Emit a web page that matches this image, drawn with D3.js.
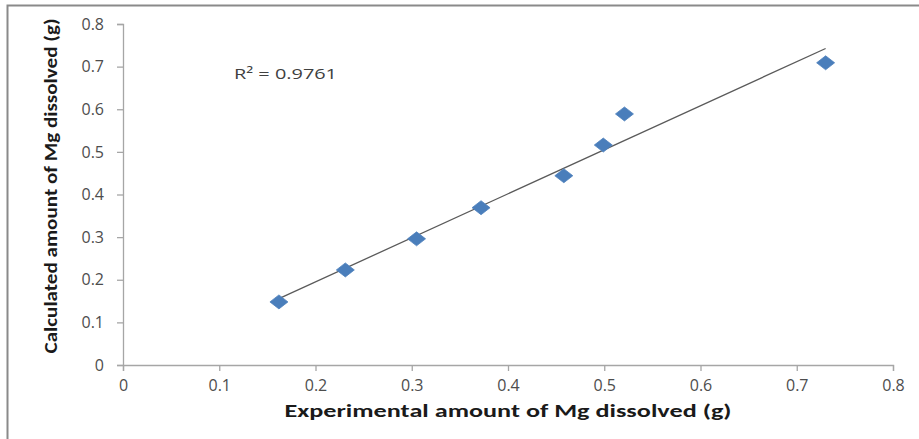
<!DOCTYPE html>
<html><head><meta charset="utf-8">
<script src="https://cdn.jsdelivr.net/npm/d3@7/dist/d3.min.js"></script>
<style>body{margin:0;background:#fff;}svg{display:block;}</style>
</head><body>
<svg id="c" width="919" height="439"></svg>
<script>
const experimental = [0.162, 0.231, 0.305, 0.372, 0.458, 0.499, 0.521, 0.730];
const calculated   = [0.148, 0.223, 0.296, 0.369, 0.444, 0.516, 0.589, 0.709];
const xTicks = [0, 0.1, 0.2, 0.3, 0.4, 0.5, 0.6, 0.7, 0.8];
const yTicks = [0, 0.1, 0.2, 0.3, 0.4, 0.5, 0.6, 0.7, 0.8];
const xTitle = "Experimental amount of Mg dissolved (g)";
const yTitle = "Calculated amount of Mg dissolved (g)";
const r2Label = "R\u00B2 = 0.9761";

const svg = d3.select("#c");
const font = "Carlito, 'Open Sans', 'Liberation Sans', sans-serif";
const tickFont = "'Open Sans', 'DejaVu Sans', sans-serif";
const x = d3.scaleLinear().domain([0, 0.8]).range([123, 893]);
const y = d3.scaleLinear().domain([0, 0.8]).range([365, 24]);

svg.append("rect").attr("x",7.5).attr("y",5.5).attr("width",930).attr("height",450)
  .attr("fill","#fff").attr("stroke","#8a8a8a").attr("stroke-width",2);

const fmt = d => d === 0 ? "0" : d3.format(".1f")(d);
const xa = svg.append("g").attr("transform",`translate(0,${y(0)})`)
  .call(d3.axisBottom(x).tickValues(xTicks).tickFormat(fmt).tickSize(6).tickPadding(9));
const ya = svg.append("g").attr("transform",`translate(${x(0)},0)`)
  .call(d3.axisLeft(y).tickValues(yTicks).tickFormat(fmt).tickSize(6).tickPadding(13));
[xa, ya].forEach(a => {
  a.select(".domain").attr("stroke","#a6a6a6").attr("stroke-width",1.3);
  a.selectAll(".tick line").attr("stroke","#a6a6a6").attr("stroke-width",1.3);
  a.selectAll("text").attr("fill","#4d4d4d").attr("font-family",tickFont).attr("font-size",16);
});

// linear regression trendline
const n = experimental.length;
const mx = d3.mean(experimental), my = d3.mean(calculated);
let sxy = 0, sxx = 0;
for (let i = 0; i < n; i++) { sxy += (experimental[i]-mx)*(calculated[i]-my); sxx += (experimental[i]-mx)**2; }
const slope = sxy/sxx, icpt = my - slope*mx;
const [x0, x1] = d3.extent(experimental);
svg.append("line")
  .attr("x1", x(x0)).attr("y1", y(icpt + slope*x0))
  .attr("x2", x(x1)).attr("y2", y(icpt + slope*x1))
  .attr("stroke","#5a5a5a").attr("stroke-width",1.3);

// diamond markers
const diamond = "M0,-7L9,0L0,7L-9,0Z";
svg.append("g").selectAll("path").data(experimental).join("path")
  .attr("d", diamond)
  .attr("transform", (d,i) => `translate(${x(d)},${y(calculated[i])})`)
  .attr("fill","#4a7ebb").attr("stroke","#4f81bd").attr("stroke-width",0.8);

svg.append("text").attr("x",234).attr("y",79).attr("font-family",tickFont)
  .attr("font-size",14.5).attr("fill","#404040")
  .attr("textLength",103).attr("lengthAdjust","spacingAndGlyphs").text(r2Label);

svg.append("text").attr("x",508).attr("y",417).attr("text-anchor","middle")
  .attr("font-family",font).attr("font-weight","bold").attr("font-size",18)
  .attr("fill","#1a1a1a").attr("textLength",447).attr("lengthAdjust","spacingAndGlyphs").text(xTitle);

svg.append("text").attr("transform","translate(57,186) rotate(-90)").attr("text-anchor","middle")
  .attr("font-family",font).attr("font-weight","bold").attr("font-size",18)
  .attr("fill","#1a1a1a").attr("textLength",335).attr("lengthAdjust","spacingAndGlyphs").text(yTitle);
</script>
</body></html>
